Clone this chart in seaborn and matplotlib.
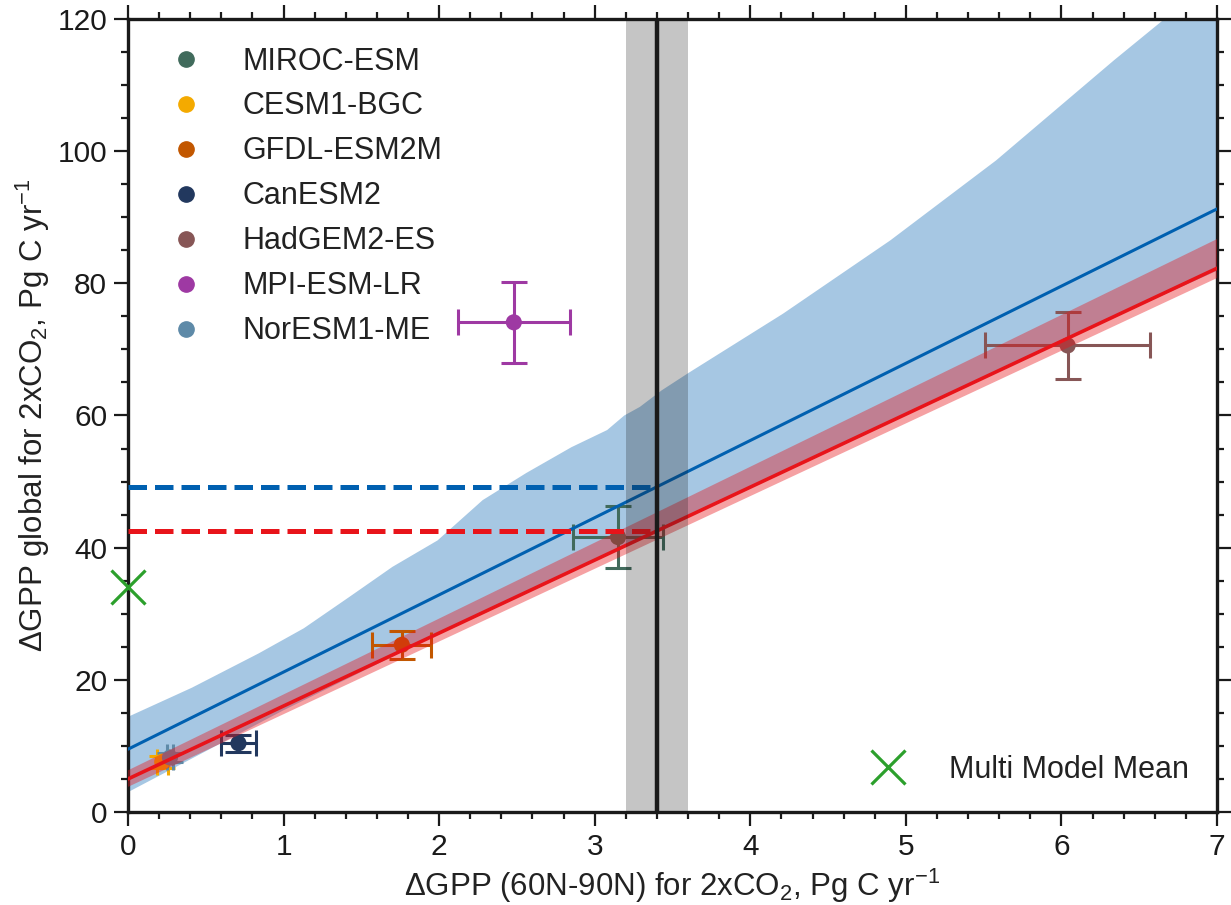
import numpy as np
import pandas as pd
import matplotlib
matplotlib.use('Agg')
import matplotlib.pyplot as plt
import seaborn as sns
from matplotlib.ticker import MultipleLocator
from matplotlib.lines import Line2D

# model results: northern (60N-90N) vs global GPP change
models = ['MIROC-ESM', 'CESM1-BGC', 'GFDL-ESM2M', 'CanESM2', 'HadGEM2-ES', 'MPI-ESM-LR', 'NorESM1-ME']
gpp_north = [3.15, 0.22, 1.76, 0.71, 6.04, 2.48, 0.27]
gpp_north_err = [0.29, 0.035, 0.19, 0.113, 0.53, 0.36, 0.022]
gpp_global = [41.6, 7.6, 25.3, 10.4, 70.6, 74.1, 8.25]
gpp_global_err = [4.7, 0.9, 2.1, 1.27, 5.1, 6.1, 0.65]
model_colors = ['#416b5c', '#f4aa00', '#c25700', '#22385e', '#875656', '#9e39a3', '#5e8aa8']

# multi model mean
mmm_north = 0.0
mmm_global = 34.0

# observational constraint on northern GPP change
obs_north = 3.4
obs_north_lo = 3.2
obs_north_hi = 3.6

# regression lines (intercept, slope)
blue_fit = [9.5, 11.68]
red_fit = [5.0, 11.04]
fit_x = [0.0, 7.0]

# uncertainty band edges
blue_upper_x = [0.0, 0.41, 0.84, 1.13, 1.42, 1.70, 1.99, 2.28, 2.56, 2.85, 3.08, 3.19, 3.29, 3.43, 3.60,
                4.21, 4.90, 5.58, 6.34, 7.0]
blue_upper = [14.4, 18.8, 24.0, 27.8, 32.5, 37.1, 41.1, 47.2, 51.3, 55.2, 57.8, 60.0, 61.3, 63.8, 66.4,
              75.4, 86.5, 98.6, 113.8, 126.5]
blue_lower_x = [0, 1, 2, 3, 4, 5, 6, 7]
blue_lower = [3.0, 15.4, 27.0, 38.1, 49.2, 60.3, 71.3, 81.9]
red_band_x = [0.0, 7.0]
red_upper = [6.3, 86.7]
red_lower = [3.8, 80.8]

blue = '#0060b0'
red = '#e8141a'

sns.set_theme(style='ticks')
plt.rcParams['font.family'] = ['Liberation Sans', 'DejaVu Sans']
plt.rcParams['mathtext.fontset'] = 'custom'
plt.rcParams['mathtext.rm'] = 'Liberation Sans'
plt.rcParams['mathtext.default'] = 'regular'

fig = plt.figure(figsize=(12.31, 9.05), dpi=100)
ax = fig.add_axes([128 / 1231, 1 - 812 / 905, 1089 / 1231, 793 / 905])

# bands
ax.fill(np.concatenate([blue_upper_x, blue_lower_x[::-1]]),
        np.concatenate([blue_upper, blue_lower[::-1]]),
        color=blue, alpha=0.35, lw=0, zorder=1)

df = pd.DataFrame({'model': models, 'x': gpp_north, 'y': gpp_global})
palette = dict(zip(models, model_colors))

for xi, yi, xe, ye, c in zip(gpp_north, gpp_global, gpp_north_err, gpp_global_err, model_colors):
    ax.errorbar(xi, yi, xerr=xe, yerr=ye, fmt='none', ecolor=c, elinewidth=2.2,
                capsize=9.4, capthick=2.2, zorder=2)

sns.scatterplot(data=df, x='x', y='y', hue='model', palette=palette, s=135,
                edgecolor='none', ax=ax, zorder=3, legend=False)

ax.fill(np.concatenate([red_band_x, red_band_x[::-1]]),
        np.concatenate([red_upper, red_lower[::-1]]),
        color=red, alpha=0.4, lw=0, zorder=4)

# regression lines
fx = np.array(fit_x)
sns.lineplot(x=fx, y=blue_fit[0] + blue_fit[1] * fx, color=blue, lw=2.2, ax=ax, zorder=5)
sns.lineplot(x=fx, y=red_fit[0] + red_fit[1] * fx, color=red, lw=2.6, ax=ax, zorder=5)

# constrained estimates
blue_est = blue_fit[0] + blue_fit[1] * obs_north
red_est = red_fit[0] + red_fit[1] * obs_north
ax.plot([0, obs_north], [blue_est, blue_est], ls='--', color=blue, lw=3.6, zorder=5)
ax.plot([0, obs_north], [red_est, red_est], ls='--', color=red, lw=3.6, zorder=5)

ax.axvspan(obs_north_lo, obs_north_hi, color='k', alpha=0.25, lw=0, zorder=6)
ax.axvline(obs_north, color='k', lw=3.2, zorder=7)

ax.plot(mmm_north, mmm_global, marker='x', ms=25, mew=2.3, color='#2ca02c',
        ls='none', clip_on=False, zorder=8)

ax.set_xlim(0, 7)
ax.set_ylim(0, 120)
ax.xaxis.set_major_locator(MultipleLocator(1))
ax.xaxis.set_minor_locator(MultipleLocator(0.2))
ax.yaxis.set_major_locator(MultipleLocator(20))
ax.yaxis.set_minor_locator(MultipleLocator(5))
ax.tick_params(which='both', direction='out', top=True, right=True, width=1.6,
               color='k', labelsize=21.5, labelcolor='k')
ax.tick_params(which='major', length=10, pad=5)
ax.tick_params(which='minor', length=5)
for s in ax.spines.values():
    s.set_linewidth(2.4)
    s.set_color('k')

ax.set_xlabel(r'$\Delta$GPP (60N-90N) for 2xCO$_2$, Pg C yr$^{-1}$', fontsize=22.5, color='#222222')
ax.set_ylabel(r'$\Delta$GPP global for 2xCO$_2$, Pg C yr$^{-1}$', fontsize=22.5, color='#222222')

# legends
handles = [Line2D([], [], marker='o', ls='none', ms=11, color=c) for c in model_colors]
leg1 = ax.legend(handles, models, loc='upper left', bbox_to_anchor=(0.0, 1.0), frameon=False,
                 fontsize=22, handlelength=2, handletextpad=0.85, labelspacing=0.49,
                 borderaxespad=0.5, labelcolor='#222222')
ax.add_artist(leg1)
mmm_handle = Line2D([], [], marker='x', ms=25, mew=2.3, color='#2ca02c', ls='none')
ax.legend([mmm_handle], ['Multi Model Mean'], loc='lower right', frameon=False, fontsize=22,
          handlelength=2, handletextpad=1.0, borderaxespad=0.5, labelcolor='#222222')

fig.savefig('out.png', dpi=100)
